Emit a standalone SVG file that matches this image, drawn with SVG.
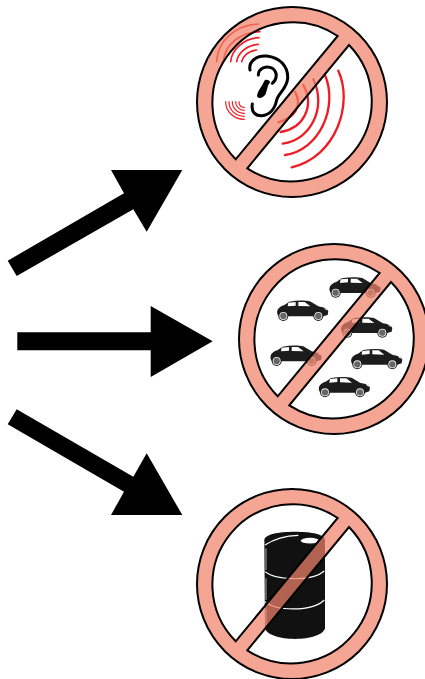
<svg xmlns="http://www.w3.org/2000/svg" width="425" height="679" viewBox="0 0 425 679">
<style>
.ar{fill:#000}
.red{fill:none;stroke:#ee1c25;stroke-linecap:round}
.ear{fill:none;stroke:#000;stroke-width:9;stroke-linecap:round;stroke-linejoin:round}
.band{fill:none;stroke:#fff;stroke-width:3.5}
</style>
<defs>
<path id="ring" d="M-95,0A95,95 0 1 1 95,0A95,95 0 1 1 -95,0ZM45.7,-66A80.4,80.4 0 0 0 -56.3,57.3ZM57,-57A80.4,80.4 0 0 1 -44.7,66.3Z" fill="#f18269" fill-opacity=".72" fill-rule="evenodd" stroke="#000" stroke-width="2"/>
<g id="car">
<path d="M2,40C-1,27 8,18 22,14L38,3C60,-1 85,-1 100,2L125,17C140,20 152,24 155,32L153,43L140,47L25,47L5,46Z" fill="#1c1c1c"/>
<path d="M35,6L57,4L57,15L33,17ZM65,4L84,4L101,17L65,16Z" fill="#fff"/>
<path d="M143,22L154,29L146,27Z" fill="#fff"/>
<g id="wheels">
<circle cx="20" cy="46" r="15" fill="#1c1c1c"/><circle cx="20" cy="46" r="12" fill="#eee"/><circle cx="20" cy="46" r="9.5" fill="#666"/>
<circle cx="125" cy="46" r="15" fill="#1c1c1c"/><circle cx="125" cy="46" r="12" fill="#eee"/><circle cx="125" cy="46" r="9.5" fill="#666"/>
</g>
</g>
</defs>
<g id="connectors">
<path class="ar" d="M7.7,260.7L16.7,276L133.3,209.3L146.7,231.7L182.3,170L111,170L124,193.3Z"/>
<path class="ar" d="M17.3,332.3L150.7,332.3L150.7,306L212.7,341.3L150.7,377L150.7,350.3L17.3,350.3Z"/>
<path class="ar" d="M16.7,409.3L133.3,476.7L146.7,453.3L182.3,515L111,515L124,491.7L7.7,424.3Z"/>
</g>
<g id="noise">
<g transform="translate(190,0) scale(.3333)">
<path class="red" stroke-width="5" d="M80,185C82,125 135,75 205,72M100,185C103,135 150,97 210,95M122,185C125,150 160,115 207,113M140,185C143,160 170,135 205,133M155,185C158,170 175,152 200,150"/>
<path class="red" stroke-width="3.5" d="M107,305C107,335 132,358 163,358M117,305C117,330 137,349 163,349M127,305C127,325 143,340 163,340M137,305C137,320 148,331 163,331M147,305C147,315 153,322 163,322"/>
<path class="red" stroke-width="7" d="M445,212C490,310 440,470 305,502M405,225C445,320 390,450 285,465M370,238C410,320 365,420 278,431M340,255C375,320 340,385 272,396M315,275C340,320 310,355 265,367"/>
</g>
<g transform="translate(215,20) scale(.3333)">
<path class="ear" d="M105,150C100,125 125,105 155,108C195,112 220,140 218,175C216,205 190,220 185,240C180,265 165,285 140,287C120,288 108,275 112,252"/>
<path class="ear" d="M130,165C130,145 155,135 172,145C190,158 185,180 172,190"/>
<path fill="#000" d="M148,183C150,178 160,178 166,186C158,195 158,205 152,222C148,230 135,238 128,232C122,225 135,205 140,198Z"/>
</g>
<use href="#ring" x="292" y="102"/>
</g>
<g id="traffic">
<g transform="translate(235,240) scale(.3333)">
<use href="#car" x="282" y="112"/>
<use href="#car" x="125" y="182"/>
<use href="#car" x="317" y="232"/>
<use href="#car" x="105" y="317"/>
<use href="#car" x="347" y="327"/>
<use href="#car" x="250" y="411"/>
</g>
<use href="#ring" x="334" y="339"/>
</g>
<g id="oil">
<g transform="translate(255,525) scale(.3333)">
<path d="M28,45C28,28 70,20 120,20C170,20 210,28 210,45L210,310C205,330 165,342 120,342C75,342 35,330 30,310Z" fill="#111"/>
<path class="band" stroke-width="3" d="M30,60C60,40 100,32 130,31"/>
<ellipse cx="165" cy="47" rx="28" ry="8.5" fill="#fff"/>
<path class="band" d="M30,140C60,165 170,172 208,138"/>
<path class="band" d="M30,230C60,258 170,262 208,225"/>
<path fill="none" stroke="#fff" stroke-width="2" d="M33,70L33,135M33,160L33,225M33,250L33,300"/>
</g>
<use href="#ring" x="292" y="584"/>
</g>
</svg>
